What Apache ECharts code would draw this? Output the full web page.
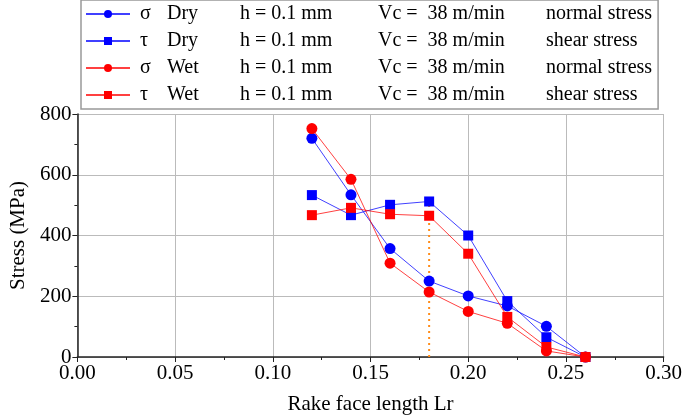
<!DOCTYPE html>
<html>
<head>
<meta charset="utf-8">
<script src="https://cdn.jsdelivr.net/npm/echarts@6/dist/echarts.min.js"></script>
<style>html,body{margin:0;padding:0;background:#fff}#c{width:685px;height:420px}</style>
</head>
<body>
<div id="c"></div>
<script>
var xVals = [0.12, 0.14, 0.16, 0.18, 0.20, 0.22, 0.24, 0.26];
var sigmaDry = [720, 534, 357, 250, 201, 168, 101, 0];
var tauDry = [533, 467, 501, 512, 400, 184, 65, 0];
var sigmaWet = [752, 585, 309, 214, 150, 111, 20, 0];
var tauWet = [467, 491, 470, 465, 340, 132, 33, 0];
var guideX = 0.18;
var guideTop = 510;

var seriesNames = ['sigmaDry', 'tauDry', 'sigmaWet', 'tauWet'];
var legendSym = ['σ', 'τ', 'σ', 'τ'];
var legendCond = ['Dry', 'Dry', 'Wet', 'Wet'];
var legendH = ['h = 0.1 mm', 'h = 0.1 mm', 'h = 0.1 mm', 'h = 0.1 mm'];
var legendVc = ['Vc =  38 m/min', 'Vc =  38 m/min', 'Vc =  38 m/min', 'Vc =  38 m/min'];
var legendKind = ['normal stress', 'shear stress', 'normal stress', 'shear stress'];

var xTicks = ['0.00', '0.05', '0.10', '0.15', '0.20', '0.25', '0.30'];

function pairs(ys) { return xVals.map(function (x, i) { return [x, ys[i]]; }); }

var FONT = "'Times New Roman', 'Liberation Serif', 'DejaVu Serif', serif";
var chart = echarts.init(document.getElementById('c'));
function mk(name, ys, color, sym) {
  return {
    name: name, type: 'line', data: pairs(ys),
    symbol: sym, symbolSize: sym === 'rect' ? 10 : 11,
    itemStyle: { color: color },
    lineStyle: { color: color, width: 1, opacity: 0.75 },
    z: 3
  };
}
var rs = function (w, pl) { return { width: w, fontFamily: FONT, fontSize: 20, padding: [0, 0, 0, pl || 0] }; };
chart.setOption({
  animation: false,
  grid: { left: 69, right: 18, top: 114, bottom: 60 },
  legend: {
    data: seriesNames,
    orient: 'vertical', left: 81, top: 0,
    itemWidth: 44, itemHeight: 10, itemGap: 7,
    padding: [4, 6, 4, 4],
    borderColor: '#999', borderWidth: 1.5,
    formatter: function (n) {
      var i = seriesNames.indexOf(n);
      return '{a|' + legendSym[i] + '}{b|' + legendCond[i] + '}{c|' + legendH[i] + '}{d|' + legendVc[i] + '}{e|' + legendKind[i] + '}';
    },
    textStyle: {
      fontFamily: FONT, fontSize: 20, color: '#000',
      rich: { a: rs(27, 5), b: rs(73), c: rs(138), d: rs(168), e: rs(132) }
    }
  },
  xAxis: {
    type: 'value', min: 0, max: 0.30, interval: 0.05,
    name: 'Rake face length Lr', nameLocation: 'middle', nameGap: 37,
    nameTextStyle: { fontFamily: FONT, fontSize: 21, color: '#000' },
    axisLine: { lineStyle: { color: '#222', width: 1.5 } },
    axisTick: { show: true, length: 5, lineStyle: { color: '#222' } },
    minorTick: { show: true, splitNumber: 2, length: 3, lineStyle: { color: '#222' } },
    splitLine: { show: true, lineStyle: { color: '#bbb', width: 1 } },
    axisLabel: { fontFamily: FONT, fontSize: 21, color: '#000', margin: 6,
      formatter: function (v) { return xTicks[Math.round(v / 0.05)]; } }
  },
  yAxis: {
    type: 'value', min: 0, max: 800, interval: 200,
    name: 'Stress (MPa)', nameLocation: 'middle', nameGap: 38,
    nameTextStyle: { fontFamily: FONT, fontSize: 21, color: '#000' },
    axisLine: { show: true, lineStyle: { color: '#222', width: 1.5 } },
    axisTick: { show: true, length: 5, lineStyle: { color: '#222' } },
    minorTick: { show: true, splitNumber: 2, length: 3, lineStyle: { color: '#222' } },
    splitLine: { show: true, lineStyle: { color: '#bbb', width: 1 } },
    axisLabel: { fontFamily: FONT, fontSize: 21, color: '#000', margin: 6 }
  },
  series: [
    mk('sigmaDry', sigmaDry, '#0000ff', 'circle'),
    mk('tauDry', tauDry, '#0000ff', 'rect'),
    mk('sigmaWet', sigmaWet, '#ff0000', 'circle'),
    mk('tauWet', tauWet, '#ff0000', 'rect'),
    {
      name: 'guide', type: 'line', data: [[guideX, 0], [guideX, guideTop]],
      symbol: 'none', z: 2,
      lineStyle: { color: '#ff8c1a', width: 2, type: [2, 4] }
    }
  ]
});
</script>
</body>
</html>
